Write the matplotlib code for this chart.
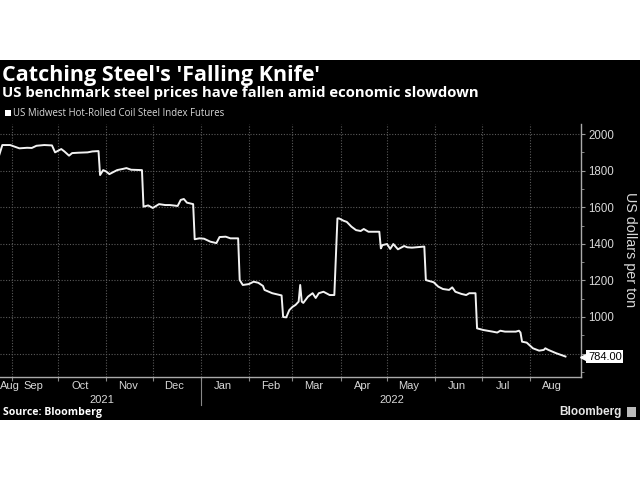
import matplotlib
matplotlib.use('Agg')
import matplotlib.pyplot as plt
import matplotlib.dates as mdates
import matplotlib.transforms as mtransforms
from matplotlib.patches import Rectangle
import pandas as pd

dates = ["2021-08-24", "2021-08-26", "2021-08-31", "2021-09-06", "2021-09-11", "2021-09-14",
         "2021-09-17", "2021-09-22", "2021-09-27", "2021-09-29", "2021-10-03", "2021-10-05",
         "2021-10-08", "2021-10-10", "2021-10-14", "2021-10-20", "2021-10-23", "2021-10-27",
         "2021-10-28", "2021-10-30", "2021-11-01", "2021-11-03", "2021-11-08", "2021-11-12",
         "2021-11-14", "2021-11-17", "2021-11-24", "2021-11-25", "2021-11-28", "2021-12-01",
         "2021-12-05", "2021-12-09", "2021-12-12", "2021-12-17", "2021-12-19", "2021-12-21",
         "2021-12-23", "2021-12-27", "2021-12-28", "2021-12-31", "2022-01-03", "2022-01-07",
         "2022-01-11", "2022-01-13", "2022-01-17", "2022-01-20", "2022-01-25", "2022-01-26",
         "2022-01-28", "2022-02-01", "2022-02-04", "2022-02-07", "2022-02-10", "2022-02-11",
         "2022-02-16", "2022-02-21", "2022-02-22", "2022-02-23", "2022-02-25", "2022-02-27",
         "2022-03-01", "2022-03-03", "2022-03-05", "2022-03-06", "2022-03-07", "2022-03-08",
         "2022-03-11", "2022-03-14", "2022-03-16", "2022-03-18", "2022-03-21", "2022-03-25",
         "2022-03-28", "2022-03-30", "2022-03-31", "2022-04-03", "2022-04-05", "2022-04-08",
         "2022-04-11", "2022-04-14", "2022-04-16", "2022-04-19", "2022-04-26", "2022-04-27",
         "2022-04-28", "2022-05-01", "2022-05-03", "2022-05-05", "2022-05-08", "2022-05-12",
         "2022-05-14", "2022-05-17", "2022-05-25", "2022-05-26", "2022-05-28", "2022-05-31",
         "2022-06-03", "2022-06-06", "2022-06-10", "2022-06-12", "2022-06-14", "2022-06-18",
         "2022-06-21", "2022-06-23", "2022-06-27", "2022-06-28", "2022-07-02", "2022-07-08",
         "2022-07-11", "2022-07-13", "2022-07-16", "2022-07-23", "2022-07-25", "2022-07-26",
         "2022-07-27", "2022-07-30", "2022-08-03", "2022-08-07", "2022-08-10", "2022-08-11",
         "2022-08-13", "2022-08-18", "2022-08-23", "2022-08-24"]
prices = [1885, 1940, 1940, 1922, 1925, 1924,
          1936, 1940, 1938, 1900, 1918, 1905,
          1882, 1896, 1898, 1900, 1905, 1907,
          1776, 1803, 1795, 1781, 1803, 1810,
          1814, 1805, 1803, 1603, 1610, 1596,
          1617, 1612, 1612, 1607, 1640, 1645,
          1625, 1617, 1425, 1430, 1428, 1412,
          1404, 1437, 1439, 1430, 1430, 1202,
          1175, 1180, 1193, 1187, 1170, 1148,
          1130, 1120, 1118, 1000, 998, 1038,
          1055, 1066, 1084, 1175, 1084, 1077,
          1111, 1130, 1104, 1130, 1138, 1120,
          1120, 1539, 1539, 1526, 1520, 1494,
          1475, 1470, 1481, 1466, 1466, 1375,
          1393, 1399, 1372, 1399, 1370, 1388,
          1381, 1379, 1385, 1202, 1197, 1190,
          1166, 1153, 1148, 1162, 1138, 1126,
          1120, 1130, 1130, 938, 929, 920,
          915, 925, 920, 920, 925, 915,
          865, 860, 829, 816, 820, 829,
          820, 802, 787, 784]

month_labels = ["Aug", "Sep", "Oct", "Nov", "Dec", "Jan", "Feb", "Mar", "Apr", "May", "Jun", "Jul", "Aug"]
month_label_dates = ["2021-08-31", "2021-09-15", "2021-10-15", "2021-11-15", "2021-12-15",
                     "2022-01-15", "2022-02-15", "2022-03-15", "2022-04-15", "2022-05-15",
                     "2022-06-15", "2022-07-15", "2022-08-15"]
year_labels = ["2021", "2022"]
y_ticks = [800, 1000, 1200, 1400, 1600, 1800, 2000]
last_value = 784.00

FONT = ['Liberation Sans', 'DejaVu Sans']
HFONT = ['Open Sans', 'DejaVu Sans']
TXT = '#d8d8d8'
GRID = '#5a5a5a'

d = pd.to_datetime(dates)
fig = plt.figure(figsize=(6.4, 4.8), dpi=100, facecolor='white')
fig.patches.append(Rectangle((0, 60/480), 1, 360/480, transform=fig.transFigure,
                             facecolor='black', edgecolor='none', zorder=-5))

ax = fig.add_axes([0, 1 - 377/480, 581/640, (377 - 124)/480])
ax.set_facecolor('black')
ax.plot(d, prices, color='#f2f2f2', lw=1.4, solid_joinstyle='round', zorder=3)

ax.set_xlim(pd.Timestamp("2021-08-24 12:00"), pd.Timestamp("2022-09-03"))
ax.set_ylim(672, 2055)

# x axis
month_starts = pd.date_range("2021-09-01", "2022-08-01", freq="MS")
ax.set_xticks(month_starts)
ax.set_xticklabels([])
ax.set_xticks(pd.to_datetime(month_label_dates), minor=True)
ax.set_xticklabels(month_labels, minor=True, fontsize=8, color=TXT, family=FONT)
ax.tick_params(axis='x', which='major', length=3, color='#888888', direction='out')
ax.tick_params(axis='x', which='minor', length=0, pad=3)

# y axis on right
ax.yaxis.tick_right()
ax.set_yticks(y_ticks)
ax.set_yticklabels(['' if v == 800 else str(v) for v in y_ticks], fontsize=8.3, color=TXT, family=FONT)
ax.set_yticks(range(700, 2051, 100), minor=True)
ax.tick_params(axis='y', which='major', length=3, color='#999999', pad=2)
ax.tick_params(axis='y', which='minor', length=2, color='#999999')

ax.grid(True, which='major', color=GRID, linestyle=(0, (1, 1.5)), lw=0.8)
for s in ['top', 'left']:
    ax.spines[s].set_visible(False)
for s in ['right', 'bottom']:
    ax.spines[s].set_color('#aaaaaa')
    ax.spines[s].set_linewidth(1.0)

# last value box
trans = mtransforms.blended_transform_factory(ax.transAxes, ax.transData)
ax.text(1.012, last_value, f"{last_value:.2f}", transform=trans, fontsize=8, color='black',
        family=FONT, va='center', ha='left',
        bbox=dict(boxstyle='square,pad=0.15', fc='white', ec='none'), clip_on=False, zorder=5)
ax.plot([1.006], [last_value], marker='<', ms=6, color='white', transform=trans, clip_on=False, zorder=5)

# y label
fig.text(630/640, 1 - 250/480, "US dollars per ton", rotation=-90, fontsize=10.3, color=TXT,
         family=FONT, ha='center', va='center')

# year labels & separator
fig.text(102/640, 1 - 400/480, year_labels[0], fontsize=8, color=TXT, family=FONT, ha='center', va='center')
fig.text(392/640, 1 - 400/480, year_labels[1], fontsize=8, color=TXT, family=FONT, ha='center', va='center')
xtrans = mtransforms.blended_transform_factory(ax.transData, ax.transAxes)
sep = mdates.date2num(pd.Timestamp("2022-01-01"))
ax.plot([sep, sep], [-0.005, -0.11], color='#888888', lw=0.8, transform=xtrans, clip_on=False)

# titles
fig.text(2/640, 1 - 81/480, "Catching Steel's 'Falling Knife'", fontsize=15.5, fontweight='bold',
         color='white', family=HFONT, ha='left', va='baseline')
fig.text(2/640, 1 - 97.5/480, "US benchmark steel prices have fallen amid economic slowdown", fontsize=10.7,
         fontweight='bold', color='white', family=HFONT, ha='left', va='baseline')
fig.patches.append(Rectangle((5/640, 1 - 116/480), 6/640, 6/480, transform=fig.transFigure,
                             facecolor='white', edgecolor='none', zorder=2))
fig.text(13/640, 1 - 113/480, "US Midwest Hot-Rolled Coil Steel Index Futures", fontsize=6.9,
         color=TXT, family=HFONT, ha='left', va='center')

# footer
fig.text(3/640, 1 - 412/480, "Source: Bloomberg", fontsize=7.6, fontweight='bold', color='white',
         family=HFONT, ha='left', va='center')
fig.text(622/640, 1 - 412/480, "Bloomberg", fontsize=8.5, fontweight='bold', color='#e6e6e6',
         family=FONT, ha='right', va='center')
fig.patches.append(Rectangle((627/640, 1 - 417/480), 9/640, 10/480, transform=fig.transFigure,
                             facecolor='#bbbbbb', edgecolor='none', zorder=2))

fig.savefig('out.png', dpi=100, facecolor='white')
